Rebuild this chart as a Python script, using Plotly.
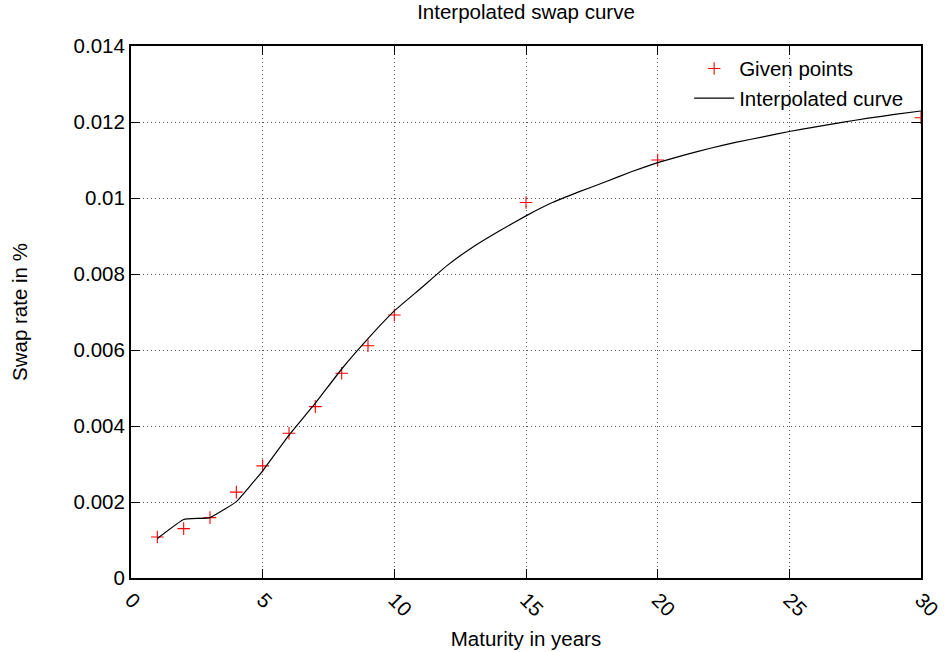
import plotly.graph_objects as go

# Given swap rate points
given_maturity = [1, 2, 3, 4, 5, 6, 7, 8, 9, 10, 15, 20, 30]
given_rate = [0.00108, 0.00130, 0.00159, 0.00226, 0.00295, 0.00381, 0.00451,
              0.00539, 0.00611, 0.00692, 0.00988, 0.01100, 0.01211]

# Interpolated curve (sampled at integer maturities)
curve_maturity = list(range(1, 31))
curve_rate = [0.00104, 0.00154, 0.00159, 0.00201, 0.00282, 0.00376, 0.00460,
              0.00550, 0.00630, 0.00703, 0.00762, 0.00822, 0.00872, 0.00914,
              0.00953, 0.00988, 0.01016, 0.01042, 0.01069, 0.01093, 0.01113,
              0.01131, 0.01147, 0.01161, 0.01175, 0.01187, 0.01199, 0.01210,
              0.01220, 0.01229]

x_ticks = [0, 5, 10, 15, 20, 25, 30]
y_ticks = [0, 0.002, 0.004, 0.006, 0.008, 0.01, 0.012, 0.014]
y_tick_text = ["0", "0.002", "0.004", "0.006", "0.008", "0.01", "0.012", "0.014"]

FONT = "Liberation Sans, Arial, sans-serif"
FS = 20.5

fig = go.Figure()
fig.add_trace(go.Scatter(
    x=given_maturity, y=given_rate, mode="markers", name="Given points",
    marker=dict(symbol="cross-thin", size=9, color="red",
                line=dict(color="red", width=1.1)),
))
fig.add_trace(go.Scatter(
    x=curve_maturity, y=curve_rate, mode="lines", name="Interpolated curve",
    line=dict(color="black", width=1.2, shape="spline", smoothing=0.3),
))

grid = dict(showgrid=True, gridcolor="#555555", gridwidth=1, griddash="1px,3px")
fig.update_layout(
    width=946, height=652,
    margin=dict(l=131, r=25, t=46, b=74),
    paper_bgcolor="white", plot_bgcolor="white",
    font=dict(family=FONT, size=FS, color="black"),
    title=dict(text="Interpolated swap curve", x=526 / 946, xanchor="center",
               y=1 - 12 / 652, yanchor="middle", yref="container",
               font=dict(size=FS)),
    showlegend=True,
    legend=dict(x=0.985, xanchor="right", y=0.995, yanchor="top",
                bgcolor="rgba(0,0,0,0)", font=dict(size=FS),
                tracegroupgap=0, itemwidth=40),
    xaxis=dict(range=[0, 30], tickvals=x_ticks, tickangle=45, automargin=False,
               ticks="inside", ticklen=9, tickcolor="black", mirror="ticks",
               showline=True, linecolor="black", linewidth=2, zeroline=False,
               title=dict(text="Maturity in years", font=dict(size=FS), standoff=12),
               tickfont=dict(size=FS), **grid),
    yaxis=dict(range=[0, 0.014], tickvals=y_ticks, ticktext=y_tick_text,
               automargin=False,
               ticks="inside", ticklen=9, tickcolor="black", mirror="ticks",
               showline=True, linecolor="black", linewidth=2, zeroline=False,
               title=dict(text="Swap rate in %", font=dict(size=FS), standoff=40),
               tickfont=dict(size=FS), **grid),
)

fig.write_html("out.html")
